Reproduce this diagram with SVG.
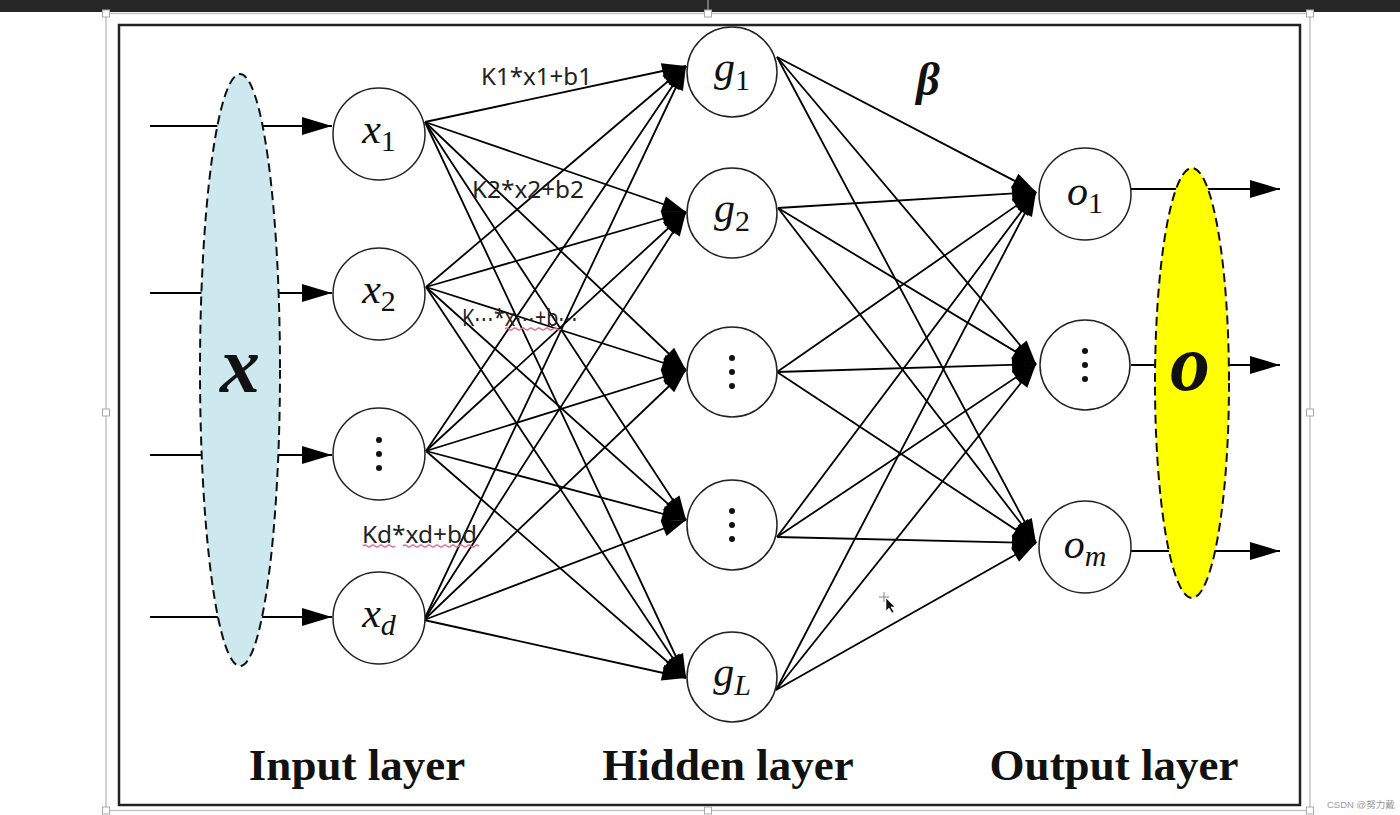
<svg xmlns="http://www.w3.org/2000/svg" width="1400" height="815" viewBox="0 0 1400 815">
<defs>
<style>
.edge{stroke:#000;stroke-width:1.8;fill:none;marker-end:url(#ah)}
.io{stroke:#000;stroke-width:1.8;fill:none;marker-end:url(#ah2)}
.node{fill:#fff;stroke:#222;stroke-width:1.5}
.lbl{font-family:"Liberation Serif","Times New Roman",serif;font-size:42px;fill:#111}
.it{font-style:italic}
.sub{font-size:30px}
.klbl{font-family:"Noto Sans","Liberation Sans",sans-serif;font-size:23px;fill:#222}
.layer{font-family:"Liberation Serif","Times New Roman",serif;font-size:45px;font-weight:bold;fill:#111;text-anchor:middle}
.wavy{fill:none;stroke:#e07090;stroke-width:1.2}
.hdl{fill:#fff;stroke:#aaa;stroke-width:1}
.dot{fill:#111}
</style>
<marker id="ah" markerUnits="userSpaceOnUse" markerWidth="30" markerHeight="30" refX="24" refY="8" orient="auto" overflow="visible">
<path d="M0,0 L24,8 L0,16 z" fill="#000"/>
</marker>
<marker id="ah2" markerUnits="userSpaceOnUse" markerWidth="40" markerHeight="30" refX="30" refY="9" orient="auto" overflow="visible">
<path d="M0,0 L30,9 L0,18 z" fill="#000"/>
</marker>
</defs>
<rect width="1400" height="815" fill="#fff"/>
<rect x="0" y="0" width="1400" height="12" fill="#262626"/>
<line x1="708" y1="0" x2="708" y2="14" stroke="#bbb" stroke-width="1"/>
<rect x="106" y="13.5" width="1204" height="797" fill="none" stroke="#c4c4c4" stroke-width="1.5"/>
<rect x="119" y="25" width="1181" height="780" fill="none" stroke="#222" stroke-width="2.5"/>

<g id="connectors">
<line class="io" x1="150" y1="126" x2="332" y2="126"/>
<line class="io" x1="150" y1="293" x2="332" y2="293"/>
<line class="io" x1="150" y1="455" x2="332" y2="455"/>
<line class="io" x1="150" y1="617" x2="332" y2="617"/>
<line class="io" x1="1131" y1="189" x2="1280" y2="189"/>
<line class="io" x1="1131" y1="365" x2="1280" y2="365"/>
<line class="io" x1="1131" y1="551" x2="1280" y2="551"/>

<line class="edge" x1="425" y1="122" x2="686" y2="66"/>
<line class="edge" x1="425" y1="122" x2="686" y2="212"/>
<line class="edge" x1="425" y1="122" x2="686" y2="370"/>
<line class="edge" x1="425" y1="122" x2="686" y2="520"/>
<line class="edge" x1="425" y1="122" x2="686" y2="678"/>
<line class="edge" x1="426" y1="287" x2="686" y2="66"/>
<line class="edge" x1="426" y1="287" x2="686" y2="212"/>
<line class="edge" x1="426" y1="287" x2="686" y2="370"/>
<line class="edge" x1="426" y1="287" x2="686" y2="520"/>
<line class="edge" x1="426" y1="287" x2="686" y2="678"/>
<line class="edge" x1="426" y1="451" x2="686" y2="66"/>
<line class="edge" x1="426" y1="451" x2="686" y2="212"/>
<line class="edge" x1="426" y1="451" x2="686" y2="370"/>
<line class="edge" x1="426" y1="451" x2="686" y2="520"/>
<line class="edge" x1="426" y1="451" x2="686" y2="678"/>
<line class="edge" x1="424" y1="620" x2="686" y2="66"/>
<line class="edge" x1="424" y1="620" x2="686" y2="212"/>
<line class="edge" x1="424" y1="620" x2="686" y2="370"/>
<line class="edge" x1="424" y1="620" x2="686" y2="520"/>
<line class="edge" x1="424" y1="620" x2="686" y2="678"/>

<line class="edge" x1="777" y1="57" x2="1036" y2="192"/>
<line class="edge" x1="777" y1="57" x2="1036" y2="364"/>
<line class="edge" x1="777" y1="57" x2="1036" y2="543"/>
<line class="edge" x1="778" y1="208" x2="1036" y2="192"/>
<line class="edge" x1="778" y1="208" x2="1036" y2="364"/>
<line class="edge" x1="778" y1="208" x2="1036" y2="543"/>
<line class="edge" x1="777" y1="372" x2="1036" y2="192"/>
<line class="edge" x1="777" y1="372" x2="1036" y2="364"/>
<line class="edge" x1="777" y1="372" x2="1036" y2="543"/>
<line class="edge" x1="777" y1="537" x2="1036" y2="192"/>
<line class="edge" x1="777" y1="537" x2="1036" y2="364"/>
<line class="edge" x1="777" y1="537" x2="1036" y2="543"/>
<line class="edge" x1="776" y1="690" x2="1036" y2="192"/>
<line class="edge" x1="776" y1="690" x2="1036" y2="364"/>
<line class="edge" x1="776" y1="690" x2="1036" y2="543"/>
</g>

<g id="input-vector">
<ellipse cx="240" cy="370" rx="40" ry="296" fill="#cde9ef" stroke="#111" stroke-width="2" stroke-dasharray="9 5"/>
<text x="240" y="392" text-anchor="middle" font-family="Liberation Serif,serif" font-size="80" font-weight="bold" font-style="italic" fill="#111">x</text>
</g>
<g id="output-vector">
<ellipse cx="1192" cy="383" rx="37" ry="215" fill="#ffff00" stroke="#111" stroke-width="2" stroke-dasharray="9 5"/>
<text x="1190" y="390" text-anchor="middle" font-family="Liberation Serif,serif" font-size="80" font-weight="bold" font-style="italic" fill="#111">o</text>
</g>

<g id="x1"><circle class="node" cx="379" cy="134" r="46"/><text class="lbl" x="379" y="143" text-anchor="middle"><tspan class="it">x</tspan><tspan class="sub" dy="8">1</tspan></text></g>
<g id="x2"><circle class="node" cx="379" cy="294" r="46"/><text class="lbl" x="379" y="303" text-anchor="middle"><tspan class="it">x</tspan><tspan class="sub" dy="8">2</tspan></text></g>
<g id="x-dots"><circle class="node" cx="379" cy="454" r="46"/><circle class="dot" cx="379" cy="440" r="3"/><circle class="dot" cx="379" cy="454" r="3"/><circle class="dot" cx="379" cy="468" r="3"/></g>
<g id="xd"><circle class="node" cx="379" cy="618" r="46"/><text class="lbl" x="379" y="627" text-anchor="middle"><tspan class="it">x</tspan><tspan class="sub it" dy="8">d</tspan></text></g>

<g id="g1"><circle class="node" cx="732" cy="72" r="45"/><text class="lbl" x="732" y="81" text-anchor="middle"><tspan class="it">g</tspan><tspan class="sub" dy="9">1</tspan></text></g>
<g id="g2"><circle class="node" cx="732" cy="213" r="45"/><text class="lbl" x="732" y="222" text-anchor="middle"><tspan class="it">g</tspan><tspan class="sub" dy="9">2</tspan></text></g>
<g id="g-dots1"><circle class="node" cx="732" cy="372" r="45"/><circle class="dot" cx="732" cy="358" r="3"/><circle class="dot" cx="732" cy="372" r="3"/><circle class="dot" cx="732" cy="386" r="3"/></g>
<g id="g-dots2"><circle class="node" cx="732" cy="525" r="45"/><circle class="dot" cx="732" cy="511" r="3"/><circle class="dot" cx="732" cy="525" r="3"/><circle class="dot" cx="732" cy="539" r="3"/></g>
<g id="gL"><circle class="node" cx="732" cy="677" r="45"/><text class="lbl" x="732" y="686" text-anchor="middle"><tspan class="it">g</tspan><tspan class="sub it" dy="9">L</tspan></text></g>

<g id="o1"><circle class="node" cx="1085" cy="194" r="46"/><text class="lbl" x="1085" y="205" text-anchor="middle"><tspan class="it">o</tspan><tspan class="sub" dy="8">1</tspan></text></g>
<g id="o-dots"><circle class="node" cx="1085" cy="365" r="45"/><circle class="dot" cx="1085" cy="351" r="3"/><circle class="dot" cx="1085" cy="365" r="3"/><circle class="dot" cx="1085" cy="379" r="3"/></g>
<g id="om"><circle class="node" cx="1085" cy="547" r="46"/><text class="lbl" x="1085" y="558" text-anchor="middle"><tspan class="it">o</tspan><tspan class="sub it" dy="8">m</tspan></text></g>

<g id="labels">
<text class="klbl" x="481" y="85" textLength="111" lengthAdjust="spacingAndGlyphs">K1*x1+b1</text>
<text class="klbl" x="472" y="198" textLength="112" lengthAdjust="spacingAndGlyphs">K2*x2+b2</text>
<text class="klbl" x="462" y="326" textLength="116" lengthAdjust="spacingAndGlyphs">K⋯*x⋯+b⋯</text>
<text class="klbl" x="362" y="543" textLength="115" lengthAdjust="spacingAndGlyphs">Kd*xd+bd</text>
<path class="wavy" d="M505,329 q2,-2 4,0 t4,0 t4,0 t4,0 t4,0 t4,0 t4,0 t4,0 t4,0 t4,0 t4,0 t4,0 t4,0 t4,0"/>
<path class="wavy" d="M363,546 q2,-2 4,0 t4,0 t4,0 t4,0 t4,0 t4,0 t4,0 t4,0"/>
<path class="wavy" d="M403,546 q2,-2 4,0 t4,0 t4,0 t4,0 t4,0 t4,0 t4,0 t4,0 t4,0 t4,0 t4,0 t4,0 t4,0 t4,0 t4,0 t4,0 t4,0 t4,0 t4,0"/>
<text x="928" y="95" text-anchor="middle" font-family="Liberation Serif,serif" font-size="46" font-weight="bold" font-style="italic" fill="#111">β</text>
<text class="layer" x="357" y="780">Input layer</text>
<text class="layer" x="728" y="780">Hidden layer</text>
<text class="layer" x="1114" y="780">Output layer</text>
<text x="1327" y="808" font-family="Liberation Sans,'Noto Sans CJK SC',sans-serif" font-size="9.5" fill="#999">CSDN @努力戴</text>
</g>

<g id="cursor">
<path d="M884,592 v10 M879,597 h10" stroke="#888" stroke-width="1"/>
<path d="M886,598 l0,13 l3,-3 l3,5 l2,-1 l-3,-5 l4,0 z" fill="#111" stroke="#fff" stroke-width="0.6"/>
</g>

<g id="handles">
<rect class="hdl" x="102.5" y="10" width="7" height="7"/>
<rect class="hdl" x="704.5" y="10" width="7" height="7"/>
<rect class="hdl" x="1306.5" y="10" width="7" height="7"/>
<rect class="hdl" x="102.5" y="409" width="7" height="7"/>
<rect class="hdl" x="1306.5" y="409" width="7" height="7"/>
<rect class="hdl" x="102.5" y="807" width="7" height="7"/>
<rect class="hdl" x="704.5" y="807" width="7" height="7"/>
<rect class="hdl" x="1306.5" y="807" width="7" height="7"/>
</g>
</svg>
